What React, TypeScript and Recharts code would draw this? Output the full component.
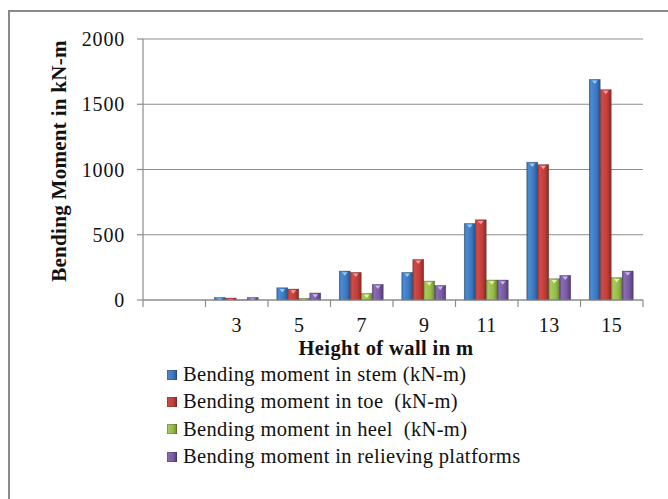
import React from 'react';
import { BarChart, Bar, XAxis, YAxis, CartesianGrid, Legend } from 'recharts';

// Wall heights (m); the first slot is an empty category
const heights = ['', '3', '5', '7', '9', '11', '13', '15'];

// Bending moments (kN-m)
const stem = [null, 20, 94, 222, 212, 587, 1056, 1691];
const toe = [null, 15, 84, 212, 311, 615, 1038, 1612];
const heel = [null, 2, 13, 51, 145, 153, 163, 171];
const platforms = [null, 20, 54, 120, 112, 153, 189, 222];

const yTicks = [0, 500, 1000, 1500, 2000];

const seriesNames = [
  'Bending moment in stem (kN-m)',
  'Bending moment in toe  (kN-m)',
  'Bending moment in heel  (kN-m)',
  'Bending moment in relieving platforms',
];

const data = heights.map((h, i) => ({
  h,
  stem: stem[i],
  toe: toe[i],
  heel: heel[i],
  platforms: platforms[i],
}));

const W = 668;
const H = 499;
const MARGIN = { top: 39, right: 25, left: 0, bottom: 169 };
const Y_AXIS_W = 143;
const X_AXIS_H = 30;
const PLOT_W = W - MARGIN.left - MARGIN.right - Y_AXIS_W;
const HALF_BAND = PLOT_W / heights.length / 2;
const TICK_SIZE = 7;
const TICK_MARGIN = 12;

const FONT = "'Liberation Serif', Tinos, 'Times New Roman', 'DejaVu Serif', serif";
const AXIS_GRAY = '#8c8c8c';

const palette = [
  { id: 'gStem', key: 'stem', stops: ['#2f65a8', '#4b8cd4', '#3b77bf', '#27558e'], tip: '#9cc8f2', legend: '#3f78bd' },
  { id: 'gToe', key: 'toe', stops: ['#a8332f', '#d24b46', '#bf3d39', '#8c2825'], tip: '#f2a09c', legend: '#c0413d' },
  { id: 'gHeel', key: 'heel', stops: ['#7f9f37', '#a8cc5c', '#95b94a', '#6c8a2c'], tip: '#e2f5a8', legend: '#94b84b' },
  { id: 'gPlat', key: 'platforms', stops: ['#5f4486', '#8c6db5', '#7759a0', '#52397a'], tip: '#cdb8ea', legend: '#7a5ca3' },
];

const makeShape = (gradId: string, tip: string) => (props: any) => {
  const { x, y, width, height } = props;
  if (!height || height <= 0) return <g />;
  const cx = x + width / 2;
  const tw = Math.min(width * 0.5, 6);
  const th = Math.min(height - 1, 3.5);
  return (
    <g>
      <rect x={x} y={y} width={width} height={height} fill={`url(#${gradId})`} stroke="rgba(40,40,40,0.45)" strokeWidth={0.6} />
      {th > 0.5 && (
        <path d={`M${cx - tw / 2},${y + 1.2}L${cx + tw / 2},${y + 1.2}L${cx},${y + 1.2 + th}Z`} fill={tip} />
      )}
    </g>
  );
};

const XTick = (props: any) => {
  const { x, y, payload, index } = props;
  const axisY = y - TICK_SIZE - TICK_MARGIN;
  const last = index === heights.length - 1;
  return (
    <g>
      <line x1={x - HALF_BAND} x2={x - HALF_BAND} y1={axisY} y2={axisY + TICK_SIZE} stroke={AXIS_GRAY} strokeWidth={1.2} />
      {last && (
        <line x1={x + HALF_BAND} x2={x + HALF_BAND} y1={axisY} y2={axisY + TICK_SIZE} stroke={AXIS_GRAY} strokeWidth={1.2} />
      )}
      <text x={x} y={y} dy={13} textAnchor="middle" fontFamily={FONT} fontSize={20} letterSpacing={0.5} fill="#111">
        {payload.value}
      </text>
    </g>
  );
};

const LegendBox = () => (
  <div style={{ fontFamily: FONT, fontSize: 20.5, letterSpacing: 0.35, color: '#111', lineHeight: '27.3px' }}>
    {palette.map((p, i) => (
      <div key={p.key} style={{ display: 'flex', alignItems: 'center', whiteSpace: 'pre' }}>
        <span
          style={{
            display: 'inline-block',
            width: 10,
            height: 10,
            marginRight: 6,
            background: `linear-gradient(90deg, ${p.stops[1]}, ${p.legend} 60%, ${p.stops[3]})`,
            boxShadow: 'inset 0 0 0 0.6px rgba(40,40,40,0.45)',
          }}
        />
        <span>{seriesNames[i]}</span>
      </div>
    ))}
  </div>
);

export default function App() {
  return (
    <div style={{ position: 'absolute', left: 0, top: 0, width: W, height: H, overflow: 'hidden', background: '#fff' }}>
      <div
        style={{
          position: 'absolute',
          left: 8,
          top: 10,
          width: 720,
          height: 560,
          border: '2px solid #8a8a8a',
          boxSizing: 'border-box',
        }}
      />
      <div style={{ position: 'absolute', left: 0, top: 0 }}>
        <BarChart width={W} height={H} data={data} margin={MARGIN} barCategoryGap="14%" barGap={0}>
          <defs>
            {palette.map((p) => (
              <linearGradient key={p.id} id={p.id} x1="0" y1="0" x2="1" y2="0">
                <stop offset="0" stopColor={p.stops[0]} />
                <stop offset="0.18" stopColor={p.stops[1]} />
                <stop offset="0.65" stopColor={p.stops[2]} />
                <stop offset="1" stopColor={p.stops[3]} />
              </linearGradient>
            ))}
          </defs>
          <CartesianGrid vertical={false} stroke={AXIS_GRAY} strokeWidth={1.2} />
          <XAxis
            dataKey="h"
            height={X_AXIS_H}
            axisLine={{ stroke: AXIS_GRAY, strokeWidth: 1.2 }}
            tickLine={false}
            tickSize={TICK_SIZE}
            tickMargin={TICK_MARGIN}
            tick={<XTick />}
            interval={0}
            label={(lp: any) => {
              const vb = lp.viewBox;
              return (
                <text x={vb.x + vb.width / 2 - 7} y={vb.y + 55} textAnchor="middle" fontFamily={FONT} fontWeight="bold" fontSize={20.5} letterSpacing={0.4} fill="#111">
                  Height of wall in m
                </text>
              );
            }}
          />
          <YAxis
            width={Y_AXIS_W}
            domain={[0, 2000]}
            ticks={yTicks}
            interval={0}
            axisLine={{ stroke: AXIS_GRAY, strokeWidth: 1.2 }}
            tickLine={{ stroke: AXIS_GRAY, strokeWidth: 1.2 }}
            tickSize={6}
            tickMargin={12}
            tick={{ fontFamily: FONT, fontSize: 20, letterSpacing: 0.8, fill: '#111' }}
            label={(lp: any) => {
              const vb = lp.viewBox;
              const cy = vb.y + vb.height / 2 - 8.5;
              return (
                <text x={66} y={cy} transform={`rotate(-90 66 ${cy})`} textAnchor="middle" fontFamily={FONT} fontWeight="bold" fontSize={21} letterSpacing={0.3} fill="#111">
                  Bending Moment in kN-m
                </text>
              );
            }}
          />
          <Legend
            layout="vertical"
            align="center"
            verticalAlign="middle"
            wrapperStyle={{ top: 361, left: 167, width: 'auto' }}
            content={<LegendBox />}
          />
          {palette.map((p, i) => (
            <Bar key={p.key} dataKey={p.key} name={seriesNames[i]} isAnimationActive={false} shape={makeShape(p.id, p.tip)} />
          ))}
        </BarChart>
      </div>
    </div>
  );
}
